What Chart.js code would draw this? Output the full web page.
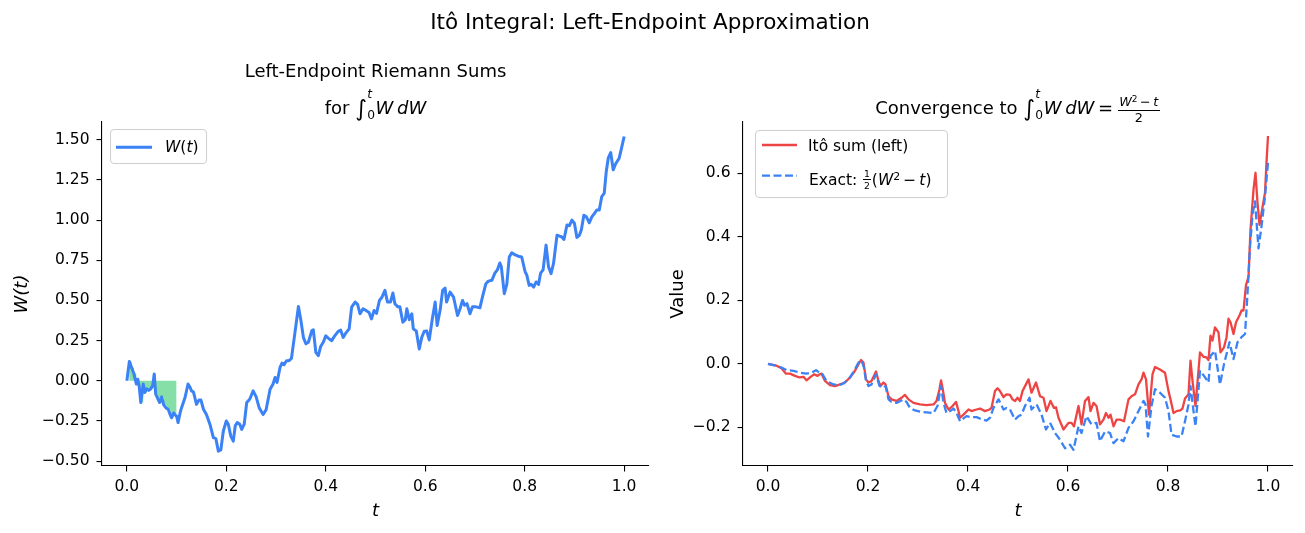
<!DOCTYPE html>
<html><head><meta charset="utf-8">
<script src="https://cdn.jsdelivr.net/npm/chart.js@4.4.1/dist/chart.umd.min.js"></script>
<style>
html,body{margin:0;padding:0;background:#fff;}
#wrap{position:relative;width:1305px;height:533px;overflow:hidden;font-family:"DejaVu Sans",sans-serif;color:#000;background:#fff;}
canvas{position:absolute;top:0;}
.txt{position:absolute;white-space:nowrap;line-height:1;text-align:center;}
.int{font-size:1.25em;display:inline-block;vertical-align:-0.12em;line-height:1;}
.lim{display:inline-block;position:relative;width:0.48em;height:1em;vertical-align:baseline;}
.lim span{position:absolute;left:0.02em;font-size:0.68em;line-height:1;}
.lim .u{top:-0.58em;font-style:italic;}
.lim .l{top:1.14em;}
.frac{display:inline-flex;flex-direction:column;align-items:center;line-height:1;margin:0 0.1em;}
.frac .n{border-bottom:1px solid #000;padding:0 0.1em 0.08em 0.1em;}
.frac .d{padding-top:0.08em;}
.sup2{font-size:0.7em;vertical-align:0.5em;line-height:0;}
i{font-style:italic;}
.leg{position:absolute;border:1px solid #cfcfcf;border-radius:4px;background:rgba(255,255,255,0.85);box-sizing:border-box;}
.ltxt{position:absolute;white-space:nowrap;line-height:1;font-size:15.5px;}
svg{position:absolute;overflow:visible;}
</style></head><body>
<div id="wrap">
<canvas id="c1" width="660" height="533" style="left:0;width:660px;height:533px"></canvas>
<canvas id="c2" width="645" height="533" style="left:660px;width:645px;height:533px"></canvas>

<div class="txt" style="left:150px;width:1000px;top:10.8px;font-size:21.5px">Itô Integral: Left-Endpoint Approximation</div>
<div class="txt" style="left:175.5px;width:400px;top:62.1px;font-size:18px">Left-Endpoint Riemann Sums</div>
<div class="txt" style="left:175.5px;width:400px;top:95.5px;font-size:18px">for <span class="int">∫</span><span class="lim"><span class="u">t</span><span class="l">0</span></span><i>W</i>&thinsp;<i>dW</i></div>
<div class="txt" style="left:768px;width:500px;top:95.5px;font-size:18px">Convergence to <span class="int">∫</span><span class="lim"><span class="u">t</span><span class="l">0</span></span><i>W</i>&thinsp;<i>dW</i>&thinsp;=&thinsp;<span class="frac" style="font-size:0.71em;vertical-align:7.5px"><span class="n"><i>W</i><span class="sup2">2</span>&thinsp;−&thinsp;<i>t</i></span><span class="d">2</span></span></div>

<div class="leg" style="left:110px;top:129px;width:97px;height:35px"></div>
<svg style="left:0;top:0" width="1" height="1"><line x1="116" y1="147.3" x2="152" y2="147.3" stroke="#3b82f6" stroke-width="3"/></svg>
<div class="ltxt" style="left:165px;top:140.4px"><i>W</i>(<i>t</i>)</div>

<div class="leg" style="left:755px;top:130px;width:193px;height:68px"></div>
<svg style="left:0;top:0" width="1" height="1"><line x1="762" y1="145" x2="797" y2="145" stroke="#ef4444" stroke-width="2.3"/><line x1="762" y1="175.7" x2="797" y2="175.7" stroke="#3b82f6" stroke-width="2.3" stroke-dasharray="8 3.5"/></svg>
<div class="ltxt" style="left:808px;top:138.6px">Itô sum (left)</div>
<div class="ltxt" style="left:809px;top:169.2px">Exact: <span class="frac" style="font-size:0.6em;vertical-align:8px"><span class="n">1</span><span class="d">2</span></span>(<i>W</i><span class="sup2">2</span>&thinsp;−&thinsp;<i>t</i>)</div>
</div>
<script>
// ---------- data ----------
const tW = [0,.005,.0095,.014,.019,.022,.025,.028,.033,.036,
.040,.044,.048,.052,.055,.058,.062,.066,.070,.074,
.079,.083,.087,.090,.094,.098,.100,.103,.107,.110,
.117,.123,.127,.130,.134,.140,.145,.149,.154,.160,
.167,.174,.179,.184,.189,.194,.200,.204,.209,.214,
.218,.222,.227,.231,.236,.241,.247,.254,.260,.266,
.274,.280,.288,.294,.298,.302,.308,.312,.316,.321,
.326,.331,.338,.345,.350,.355,.360,.365,.372,.375,
.380,.385,.390,.395,.400,.407,.412,.418,.425,.430,
.435,.441,.447,.452,.459,.464,.469,.475,.481,.487,
.492,.497,.502,.508,.513,.519,.524,.530,.535,.539,
.545,.549,.555,.560,.563,.568,.573,.576,.582,.588,
.593,.598,.603,.608,.614,.620,.624,.630,.635,.640,
.643,.650,.657,.665,.670,.675,.679,.684,.690,.695,
.702,.710,.715,.722,.727,.734,.740,.745,.750,.753,
.759,.764,.769,.774,.780,.787,.794,.801,.804,.809,
.813,.818,.823,.828,.832,.837,.843,.848,.853,.858,
.865,.870,.874,.879,.885,.890,.895,.900,.905,.910,
.914,.919,.924,.930,.935,.940,.945,.950,.955,.960,
.964,.968,.973,.978,.983,.990,.995,1.000];
const W = [0,.12,.083,.046,-.02,.01,-.04,-.135,-.02,-.073,
-.05,-.06,-.05,-.03,.042,-.083,-.11,-.135,-.10,-.15,
-.17,-.177,-.21,-.23,-.20,-.215,-.22,-.26,-.20,-.167,
-.104,-.02,-.04,-.0625,-.07,-.146,-.12,-.12,-.177,-.21,
-.27,-.354,-.36,-.4375,-.43,-.3125,-.25,-.27,-.344,-.375,
-.28,-.26,-.27,-.302,-.27,-.135,-.115,-.0625,-.10,-.167,
-.21,-.18,-.052,-.02,.021,-.01,.083,.11,.10,.125,
.125,.14,.30,.4625,.375,.27,.23,.24,.3125,.317,
.177,.156,.215,.24,.28,.26,.25,.28,.308,.315,
.27,.30,.323,.458,.49,.475,.417,.448,.437,.425,
.385,.437,.42,.50,.52,.5625,.49,.49,.546,.479,
.46,.46,.365,.38,.448,.38,.417,.323,.31,.198,
.27,.308,.31,.254,.38,.49,.344,.44,.5625,.577,
.49,.552,.52,.406,.448,.50,.47,.48,.417,.46,
.46,.454,.52,.604,.62,.625,.67,.69,.733,.71,
.542,.60,.77,.796,.785,.775,.77,.677,.66,.594,
.60,.583,.615,.60,.67,.69,.844,.708,.667,.73,
.906,.90,.896,.879,.969,.965,1.0,.98,.892,.905,
.94,1.03,1.02,.983,1.02,1.04,1.0625,1.0625,1.146,1.167,
1.30,1.385,1.42,1.3125,1.35,1.385,1.45,1.52];
const riemannEnd = 0.1;   // shaded left-endpoint rectangles cover t in [0, 0.1]

const tIto = [0,.017,.027,.036,.044,.054,.063,.071,.077,.084,
.092,.099,.103,.107,.114,.124,.134,.144,.154,.164,
.174,.181,.186,.191,.196,.201,.207,.216,.221,.225,
.231,.235,.241,.247,.257,.267,.274,.281,.291,.304,
.317,.331,.337,.343,.346,.349,.354,.361,.369,.376,
.381,.384,.391,.401,.407,.417,.424,.434,.443,.447,
.454,.459,.464,.471,.477,.484,.489,.494,.499,.504,
.509,.521,.527,.536,.544,.551,.557,.565,.572,.576,
.581,.591,.601,.607,.612,.621,.627,.634,.641,.645,
.651,.657,.664,.671,.676,.681,.685,.691,.697,.704,
.712,.721,.727,.734,.741,.747,.751,.756,.762,.769,
.774,.783,.794,.801,.805,.811,.817,.824,.829,.834,
.841,.845,.849,.855,.864,.871,.877,.881,.885,.889,
.894,.901,.905,.912,.917,.921,.925,.931,.936,.943,
.947,.951,.956,.961,.965,.971,.975,.979,.983,.987,
.994,.997,1.0];
const ito = [0,-.006,-.014,-.031,-.031,-.038,-.043,-.041,-.052,-.043,
-.033,-.038,-.033,-.031,-.054,-.067,-.070,-.065,-.059,-.043,
-.022,-.001,.012,.004,-.049,-.059,-.054,-.024,-.054,-.070,
-.059,-.065,-.102,-.112,-.117,-.107,-.098,-.112,-.123,-.128,
-.130,-.128,-.117,-.080,-.052,-.075,-.123,-.144,-.133,-.120,
-.149,-.170,-.160,-.144,-.149,-.144,-.141,-.149,-.144,-.139,
-.086,-.077,-.086,-.105,-.096,-.098,-.112,-.117,-.107,-.117,
-.086,-.049,-.091,-.059,-.102,-.107,-.149,-.117,-.139,-.137,
-.170,-.207,-.186,-.186,-.197,-.133,-.191,-.117,-.105,-.149,
-.123,-.133,-.191,-.176,-.155,-.170,-.160,-.197,-.176,-.176,
-.181,-.112,-.102,-.096,-.065,-.049,-.028,-.049,-.160,-.033,
-.010,-.017,-.028,-.086,-.112,-.155,-.149,-.147,-.141,-.109,
-.096,.010,-.054,-.133,.036,.022,.020,.012,.089,.073,
.115,.099,.036,.052,.083,.142,.131,.094,.131,.152,
.168,.168,.248,.274,.422,.549,.602,.507,.438,.475,
.539,.634,.718];

const tExact = [0,.017,.027,.037,.051,.064,.077,.087,.096,.103,
.107,.117,.131,.141,.151,.164,.174,.181,.187,.192,
.196,.201,.207,.216,.223,.231,.235,.241,.247,.257,
.271,.277,.284,.294,.304,.317,.331,.339,.346,.351,
.357,.364,.371,.377,.384,.391,.397,.407,.417,.423,
.437,.444,.451,.461,.471,.477,.484,.494,.501,.507,
.514,.523,.527,.537,.547,.556,.564,.574,.584,.594,
.604,.611,.621,.627,.637,.647,.657,.664,.674,.684,
.691,.701,.711,.721,.731,.741,.751,.755,.760,.767,
.774,.784,.794,.801,.807,.817,.827,.834,.841,.845,
.851,.855,.864,.872,.881,.885,.894,.904,.912,.923,
.931,.939,.947,.954,.959,.964,.969,.974,.981,.987,
.994,1.0];
const exact = [0,-.006,-.012,-.020,-.022,-.028,-.031,-.028,-.020,-.028,
-.028,-.054,-.065,-.068,-.062,-.043,-.017,.004,.010,-.012,
-.054,-.070,-.065,-.033,-.070,-.075,-.070,-.112,-.120,-.123,
-.112,-.120,-.139,-.147,-.151,-.153,-.155,-.133,-.070,-.123,
-.155,-.149,-.141,-.155,-.181,-.172,-.165,-.168,-.168,-.172,
-.179,-.170,-.139,-.112,-.144,-.139,-.144,-.176,-.165,-.160,
-.133,-.107,-.144,-.128,-.160,-.207,-.186,-.218,-.239,-.266,
-.255,-.271,-.197,-.218,-.165,-.191,-.186,-.244,-.213,-.218,
-.250,-.234,-.244,-.202,-.181,-.149,-.117,-.128,-.229,-.133,
-.080,-.091,-.107,-.149,-.223,-.229,-.229,-.181,-.128,-.070,
-.149,-.197,-.022,-.038,-.059,.025,.041,-.065,-.001,.068,
.015,.068,.084,.094,.221,.369,.470,.512,.364,.433,
.528,.634];

const xTicks = [0,0.2,0.4,0.6,0.8,1.0];
const leftYTicks = [-0.5,-0.25,0,0.25,0.5,0.75,1.0,1.25,1.5];
const rightYTicks = [-0.2,0,0.2,0.4,0.6];

// ---------- chart building ----------
const pts = (xs, ys) => xs.map((x, i) => ({x: x, y: ys[i]}));
const fmt = (v, d) => { const r = Math.round(v * 1000) / 1000; return (r < 0 ? '\u2212' : '') + Math.abs(r).toFixed(d); };

Chart.defaults.font.family = '"DejaVu Sans", sans-serif';
Chart.defaults.color = '#000';

function axisX(h) {
  return {
    type: 'linear', min: -0.05, max: 1.05,
    afterFit: s => { s.height = h; },
    afterBuildTicks: s => { s.ticks = xTicks.map(v => ({value: v})); },
    ticks: {font: {size: 15.5}, padding: 6, maxRotation: 0, autoSkip: false, callback: v => fmt(v, 1)},
    grid: {drawOnChartArea: false, drawTicks: true, tickLength: 5.5, color: '#000', lineWidth: 1.1},
    border: {display: true, color: '#000', width: 1.1},
    title: {display: true, text: 't', font: {size: 18, style: 'italic'}, padding: 0}
  };
}
function axisY(w, min, max, tickList, dec, title, italic) {
  return {
    type: 'linear', min: min, max: max,
    afterFit: s => { s.width = w; },
    afterBuildTicks: s => { s.ticks = tickList.map(v => ({value: v})); },
    ticks: {font: {size: 15.5}, padding: 7, autoSkip: false, callback: v => fmt(v, dec)},
    grid: {drawOnChartArea: false, drawTicks: true, tickLength: 5.5, color: '#000', lineWidth: 1.1},
    border: {display: true, color: '#000', width: 1.1},
    title: {display: true, text: title, font: {size: 18, style: italic ? 'italic' : 'normal'}, padding: 0}
  };
}
const common = {
  responsive: false, animation: false, devicePixelRatio: 1,
  plugins: {legend: {display: false}, tooltip: {enabled: false}, title: {display: false}},
  elements: {point: {radius: 0}, line: {tension: 0, borderJoinStyle: 'round'}}
};

// left chart
const greenT = tW.filter(t => t <= riemannEnd + 1e-9);
const greenW = W.slice(0, greenT.length);
new Chart(document.getElementById('c1'), {
  type: 'line',
  data: {datasets: [
    {data: pts(tW, W), borderColor: '#3b82f6', borderWidth: 3, fill: false},
    {data: pts(greenT, greenW), borderWidth: 0, borderColor: 'rgba(0,0,0,0)', backgroundColor: 'rgba(34,197,94,0.55)', fill: 'origin', stepped: 'before'}
  ]},
  options: Object.assign({}, common, {
    layout: {padding: {left: 11.2, top: 122, right: 11, bottom: 11.2}},
    scales: {x: axisX(533 - 11.2 - 466), y: axisY(102 - 11.2, -0.53, 1.61, leftYTicks, 2, 'W(t)', true)}
  })
});

// right chart
new Chart(document.getElementById('c2'), {
  type: 'line',
  data: {datasets: [
    {data: pts(tExact, exact), borderColor: '#3b82f6', borderWidth: 2.3, borderDash: [8, 3.5], fill: false},
    {data: pts(tIto, ito), borderColor: '#ef4444', borderWidth: 2.3, fill: false}
  ]},
  options: Object.assign({}, common, {
    layout: {padding: {left: 7.2, top: 122, right: 12, bottom: 11.2}},
    scales: {x: axisX(533 - 11.2 - 466), y: axisY(83 - 7.2, -0.322, 0.762, rightYTicks, 1, 'Value', false)}
  })
});
</script>
</body></html>
